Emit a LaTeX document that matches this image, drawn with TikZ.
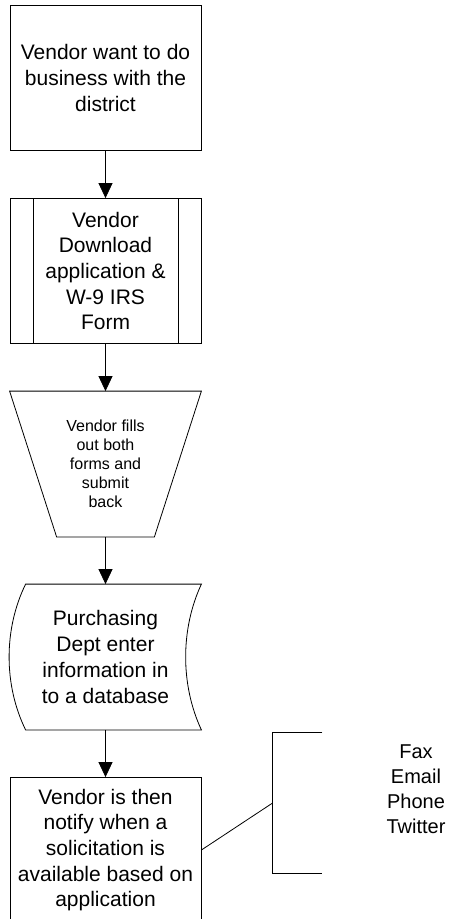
\documentclass[tikz,border=0pt]{standalone}
\usepackage{fontspec}
\setmainfont{Liberation Sans}
\usepackage{tikz}
\usetikzlibrary{positioning}
\usetikzlibrary{arrows.meta}

\tikzset{
  stepbox/.style={minimum width=191pt,minimum height=145pt,inner sep=0pt,align=center,
    font=\fontsize{21}{25.7}\selectfont},
  notebox/.style={minimum width=49pt,minimum height=140pt,inner sep=0pt},
}

\begin{document}
\begin{tikzpicture}[x=1pt,y=1pt,>={Triangle[length=15pt,width=14pt]},line width=0.8pt,node distance=193pt]
  \useasboundingbox (0,0) rectangle (451,-919);
  \clip (0,0) rectangle (451,-919);

  \node[stepbox,draw] (want)     at (105.5,-78)       {Vendor want to do\\business with the\\district};
  \node[stepbox,draw] (download) [below of=want]     {Vendor\\Download\\application \&\\W-9 IRS\\Form};
  \node[stepbox,font=\fontsize{16}{19}\selectfont]
                      (fill)     [below of=download] {Vendor fills\\out both\\forms and\\submit\\back};
  \node[stepbox]      (enter)    [below of=fill]     {Purchasing\\Dept enter\\information in\\to a database};
  \node[stepbox,draw] (notify)   [below of=enter]    {Vendor is then\\notify when a\\solicitation is\\available based on\\application};
  \node[notebox]      (note)     at (297.5,-803)     {};
  \node[align=center,font=\fontsize{20}{25}\selectfont]
                      (channels) at (416,-789)       {Fax\\Email\\Phone\\Twitter};

  % predefined process bars
  \draw ([xshift=23.5pt]download.north west) -- ([xshift=23.5pt]download.south west)
        ([xshift=-23.5pt]download.north east) -- ([xshift=-23.5pt]download.south east);
  % manual input
  \draw (fill.north west) -- (fill.north east) -- ([xshift=-47pt]fill.south east)
        -- ([xshift=47pt]fill.south west) -- cycle;
  % stored data
  \draw ([xshift=16pt]enter.north west) -- (enter.north east)
        .. controls ([xshift=-21pt,yshift=-45pt]enter.north east) and ([xshift=-21pt,yshift=45pt]enter.south east) .. (enter.south east)
        -- ([xshift=16pt]enter.south west)
        .. controls ([xshift=-6pt,yshift=45pt]enter.south west) and ([xshift=-6pt,yshift=-45pt]enter.north west) .. cycle;
  % annotation bracket
  \draw (note.north east) -- (note.north west) -- (note.south west) -- (note.south east);

  \path[->]
        (want) edge (download)
    (download) edge (fill)
        (fill) edge (enter)
       (enter) edge (notify);
  \draw (notify.east) -- (note.west);
\end{tikzpicture}
\end{document}
